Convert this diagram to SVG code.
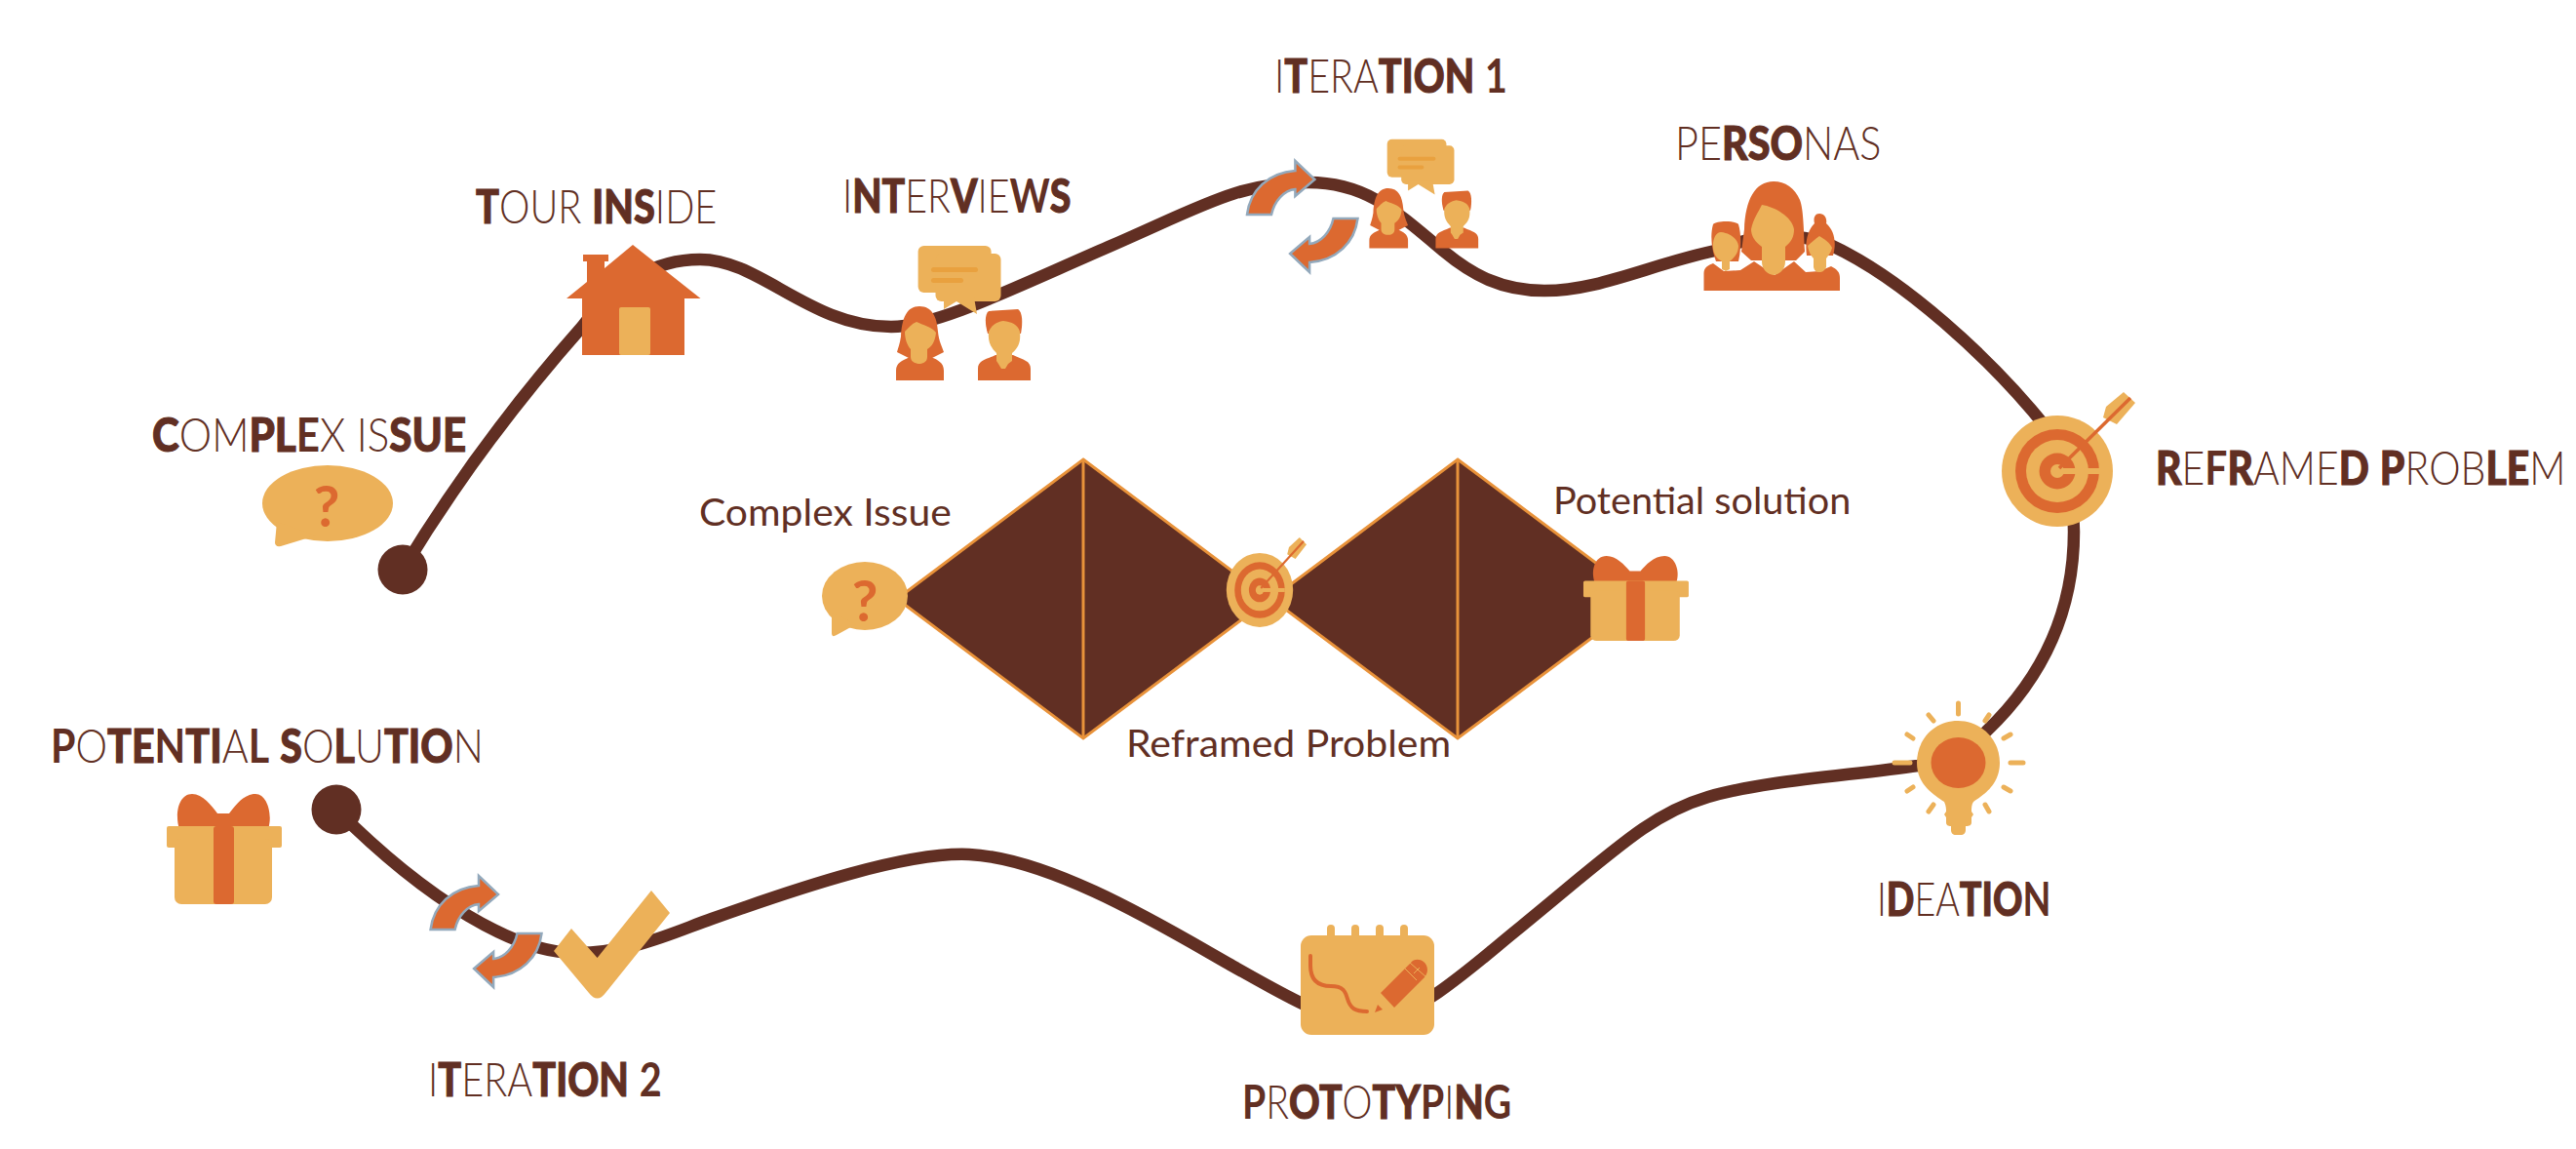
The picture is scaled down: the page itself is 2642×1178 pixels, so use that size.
<svg xmlns="http://www.w3.org/2000/svg" xmlns:xlink="http://www.w3.org/1999/xlink" width="2642" height="1178" viewBox="0 0 2642 1178">
<style>
.y{fill:#ECB159}.o{fill:#DC6930}.br{fill:#612F23}
.h{font-family:"Lato","Liberation Sans",sans-serif;font-size:47px;font-weight:300;fill:#612F23}
.h .b{font-weight:900;stroke:#612F23;stroke-width:1}.h .m{font-weight:700}
.s{font-family:"Lato","Liberation Sans",sans-serif;font-size:38px;font-weight:400;fill:#612F23}
.q{font-family:"Lato","Liberation Sans",sans-serif;font-size:58px;font-weight:700;fill:#DC6930;text-anchor:middle}
.path{fill:none;stroke:#612F23;stroke-width:12.5}
.ray{fill:none;stroke:#ECB159;stroke-width:5;stroke-linecap:round}
.arr{fill:#DC6930;stroke:#93A9BC;stroke-width:2.5}
.dia{fill:#612F23;stroke:#E8923A;stroke-width:3;stroke-linejoin:miter}
.mid{stroke:#E8923A;stroke-width:3}
</style>
<defs>
<path id="arrow" class="arr" d="M0,0C3,-25 22,-43 49.4,-45L49.4,-55L69.4,-36L49.4,-19L49.4,-26C38,-25 28,-14 25,0Z"/>
<g id="talk">
<rect class="y" x="941.6" y="252" width="75" height="48" rx="6"/>
<rect class="y" x="959.5" y="260" width="67" height="49" rx="6"/>
<polygon class="y" points="968,305 968,317 981,309 1002,322 999,305"/>
<rect x="955" y="274" width="48" height="5" rx="2.5" fill="#E9A13F"/>
<rect x="955" y="285" width="33" height="5" rx="2.5" fill="#E9A13F"/>
<path class="o" d="M943,314C930,314 925,326 924,345C923,352 921,357 920,361L932,367L956,367L968,361C966,355 963,350 962,340C961,325 956,314 943,314Z"/>
<path class="o" d="M919,390V380C919,372 925,370 933,366L955,366C962,369 968,372 968,380V390Z"/>
<path class="y" d="M928,340C932,336 935,332 940,330C946,333 956,335 960,341C959,350 956,355 951,358V366C951,372 945,373 943,373C941,373 934,372 934,366V358C931,355 928,348 928,340Z"/>
<path class="o" d="M1003,390V378C1003,370 1010,369 1021,364L1039,364C1050,369 1057,370 1057,378V390Z"/>
<path class="o" d="M1014,319L1044,317C1049,320 1049,332 1047,342L1013,342C1010,332 1010,322 1014,319Z"/>
<path class="y" d="M1014,340C1017,333 1023,330 1029,329C1038,330 1044,333 1046,340C1047,350 1045,356 1038,362V370L1034,373L1031,378L1027,378L1024,373L1022,370V362C1016,356 1013,350 1014,340Z"/>
</g>
<g id="gift">
<path class="o" d="M184,850C179,835 183,814 197,814C208,814 217,826 223,834H235C241,826 250,814 262,814C274,814 280,835 275,850Z"/>
<rect class="y" x="171" y="847" width="118" height="22" rx="2"/>
<rect class="y" x="179" y="860" width="100" height="67" rx="7"/>
<rect class="o" x="219" y="847" width="21" height="80" rx="3"/>
</g>
<g id="target">
<circle class="y" cx="2110" cy="483" r="57"/>
<circle class="o" cx="2110" cy="483" r="43"/>
<circle class="y" cx="2110" cy="483" r="32"/>
<circle class="o" cx="2110" cy="483" r="18.5"/>
<circle class="y" cx="2110" cy="483" r="7"/>
<rect class="y" x="2113" y="480" width="40" height="6"/>
<path class="y" d="M2178,402L2190,413L2171,435L2157,428L2160,417Z"/>
<line x1="2112" y1="480" x2="2185" y2="408" stroke="#DC6930" stroke-width="3.5"/>
</g>
<g id="bubble">
<ellipse class="y" cx="336" cy="516" rx="67" ry="39"/>
<path class="y" d="M284,535L282,556Q282,561 288,560L324,549Z"/>
</g>
</defs>
<rect width="2642" height="1178" fill="#FFFFFF"/>

<g id="double-diamond">
<polygon class="dia" points="1111,471 1302,614 1111,757 920,614"/>
<polygon class="dia" points="1495,471 1686,614 1495,757 1304,614"/>
<line class="mid" x1="1111" y1="471" x2="1111" y2="757"/>
<line class="mid" x1="1495" y1="471" x2="1495" y2="757"/>
</g>

<g id="connectors">
<path class="path" d="M413,584C470,490 535,405 597,335C630,290 672,266 718,266C780,266 830,335 914,335C960,335 1040,295 1137,253S1270,187 1342,187C1400,187 1430,215 1480,257C1510,282 1540,298 1584,298C1640,298 1690,272 1759,257C1790,245 1830,232 1879,252C1950,285 2040,365 2100,440C2120,480 2127,510 2127,545C2127,620 2100,690 2037,750C2015,770 1995,780 1967,785C1900,795 1810,800 1752,817S1660,868 1560,950C1510,990 1450,1048 1400,1048C1365,1048 1320,1022 1260,988S1080,880 994,876C930,873 820,910 730,942C695,954 650,977 590,977C530,977 440,925 345,830"/>
<circle class="br" cx="413" cy="584" r="25.5"/>
<circle class="br" cx="345" cy="830" r="25.5"/>
</g>

<g id="node-complex-issue">
<use href="#bubble"/>
<text class="q" x="335" y="540">?</text>
<text class="h" transform="translate(156,463) scale(.897,1)"><tspan class="b">C</tspan>OM<tspan class="b">PL</tspan><tspan class="m">E</tspan>X IS<tspan class="b">SUE</tspan></text>
</g>

<g id="node-tour-inside">
<path class="o" d="M649,251L718.5,306H702V364H597V306H581L602,289V268H598V261H624V268H620V275Z"/>
<rect class="y" x="635" y="315" width="32" height="49" rx="2"/>
<text class="h" transform="translate(488,229) scale(.845,1)"><tspan class="b">T</tspan>OUR <tspan class="b">INS</tspan>IDE</text>
</g>

<g id="node-interviews">
<use href="#talk"/>
<text class="h" transform="translate(864,218) scale(.836,1)">I<tspan class="b">NT</tspan>ER<tspan class="b">V</tspan>IE<tspan class="m">W</tspan><tspan class="b">S</tspan></text>
</g>

<g id="node-iteration-1">
<use href="#talk" transform="translate(660,-61.3) scale(.81)"/>
<use href="#arrow" transform="translate(1279,220)"/>
<use href="#arrow" transform="translate(1392.5,224) rotate(180)"/>
<text class="h" transform="translate(1307,95) scale(.84,1)">I<tspan class="b">T</tspan>ERA<tspan class="b">TION</tspan> <tspan class="m">1</tspan></text>
</g>

<g id="node-personas">
<path class="o" d="M1819,186C1800,186 1790,205 1789,235L1786,258L1796,267L1842,267L1851,258C1850,240 1850,215 1846,205C1841,193 1831,186 1819,186Z"/>
<path class="o" d="M1757,230C1760,226 1780,226 1783,230C1786,240 1786,255 1783,268H1760C1755,255 1754,240 1757,230Z"/>
<path class="o" d="M1866,219C1860,219 1860,226 1861,229C1854,236 1851,248 1853,262L1880,262C1884,248 1881,236 1873,229C1874,225 1872,219 1866,219Z"/>
<path class="o" d="M1747.5,298V280C1747.5,274 1752,272 1757,270L1768,278L1785,277L1799,268L1820,282L1840,268L1852,279L1866,278L1878,273C1884,276 1887,279 1887,285V298Z"/>
<path class="y" d="M1757,255C1756,245 1760,238 1765,238C1775,239 1782,245 1783,252C1783,260 1778,265 1774,268V276L1770,278L1766,276V268C1761,265 1758,262 1757,255Z"/>
<path class="y" d="M1796,235C1798,225 1803,218 1807,210C1820,212 1838,222 1840,235C1840,243 1837,248 1831,253V268C1831,277 1825,281 1819,282C1813,281 1807,277 1807,268V253C1800,248 1796,242 1796,235Z"/>
<path class="y" d="M1854,252C1858,248 1862,245 1866,242C1871,245 1877,249 1879,254C1878,259 1875,262 1873,265V274C1871,278 1869,279 1866,279C1863,279 1861,278 1860,274V265C1857,262 1855,258 1854,252Z"/>
<text class="h" transform="translate(1718,164) scale(.88,1)">PE<tspan class="b">RSO</tspan>NAS</text>
</g>

<g id="node-reframed-problem">
<use href="#target"/>
<text class="h" transform="translate(2211,497) scale(.87,1)"><tspan class="b">R</tspan>E<tspan class="m">F</tspan><tspan class="b">R</tspan>AME<tspan class="b">D</tspan> <tspan class="b">P</tspan>ROB<tspan class="b">LE</tspan>M</text>
</g>

<g id="node-ideation">
<path class="y" d="M2008,739C1984,739 1966,758 1966,782C1966,805 1984,815 1994,822C1996,826 1996,830 1996,832L1994,835L1996,838V843C1996,846 1998,847 2001,847V851C2001,854 2003,856 2006,856H2011C2014,856 2016,854 2016,851V847C2020,847 2022,846 2022,843V838L2024,835L2022,832C2022,828 2022,825 2024,822C2034,815 2051,805 2051,782C2051,758 2032,739 2008,739Z"/>
<ellipse class="o" cx="2008.500" cy="782" rx="28" ry="26"/>
<path class="ray" d="M2008.500,721V732M1978,733L1983,739M2036,739L2040,733M1956,753L1962,757M2055,757L2062,753M1943,782H1959M2062,782H2075M1956,811L1962,807M2055,807L2062,811M1978,832L1983,825M2036,825L2040,832"/>
<text class="h" transform="translate(1925,939) scale(.8,1)">I<tspan class="b">D</tspan>EA<tspan class="b">TIO</tspan><tspan class="m">N</tspan></text>
</g>

<g id="node-prototyping">
<rect class="y" x="1361" y="948" width="8" height="20" rx="4"/>
<rect class="y" x="1386" y="948" width="8" height="20" rx="4"/>
<rect class="y" x="1411" y="948" width="8" height="20" rx="4"/>
<rect class="y" x="1436" y="948" width="8" height="20" rx="4"/>
<rect class="y" x="1334" y="959" width="137" height="102" rx="11"/>
<path d="M1344,980V990C1344,1005 1352,1011 1365,1011C1378,1011 1380,1017 1382,1024C1385,1034 1390,1037 1402,1037" fill="none" stroke="#DC6930" stroke-width="4" stroke-linecap="round"/>
<path class="o" d="M1416,1018L1430,1033L1461,1002C1466,996 1464,989 1460,986C1456,983 1450,983 1447,987Z"/>
<path class="o" d="M1410,1038L1413,1030L1418,1035Z"/>
<path d="M1446,987L1463,1002M1441,993L1453,1005M1450,998L1456,992" stroke="#ECB159" stroke-width="1" fill="none"/>
<text class="h" transform="translate(1274,1147) scale(.833,1)"><tspan class="m">P</tspan>R<tspan class="b">OT</tspan>O<tspan class="b">TY</tspan><tspan class="m">P</tspan>I<tspan class="b">N</tspan><tspan class="m">G</tspan></text>
</g>

<g id="node-iteration-2">
<path class="y" d="M586,952L612.600,982L668,913L687,936L621,1018Q612.600,1029 604,1018L568,975Z"/>
<use href="#arrow" transform="translate(441.6,953)"/>
<use href="#arrow" transform="translate(555.5,957) rotate(180)"/>
<text class="h" transform="translate(439,1124) scale(.843,1)">I<tspan class="b">T</tspan>ERA<tspan class="b">TION</tspan> <tspan class="m">2</tspan></text>
</g>

<g id="node-potential-solution">
<use href="#gift"/>
<text class="h" transform="translate(52,782) scale(.876,1)"><tspan class="m">P</tspan>O<tspan class="b">TE</tspan><tspan class="m">N</tspan><tspan class="b">TI</tspan>A<tspan class="m">L</tspan> <tspan class="b">S</tspan>O<tspan class="b">L</tspan>U<tspan class="b">TIO</tspan>N</text>
</g>

<g id="node-small-complex-issue">
<ellipse class="y" cx="887" cy="611" rx="44" ry="35"/>
<path class="y" d="M853,628V649Q853,654 858,651L878,640Z"/>
<text class="q" x="887" y="637">?</text>
<text class="s" transform="translate(717,539) scale(1.075,1)">Complex Issue</text>
</g>

<g id="node-small-reframed">
<use href="#target" transform="translate(26,282.800) scale(.6,.667)"/>
<text class="s" transform="translate(1155,776) scale(1.078,1)">Reframed Problem</text>
</g>

<g id="node-small-potential">
<use href="#gift" transform="translate(1467.5,-56.8) scale(.915,.77)"/>
<text class="s" transform="translate(1593,527) scale(1.043,1)">Potential solution</text>
</g>
</svg>
